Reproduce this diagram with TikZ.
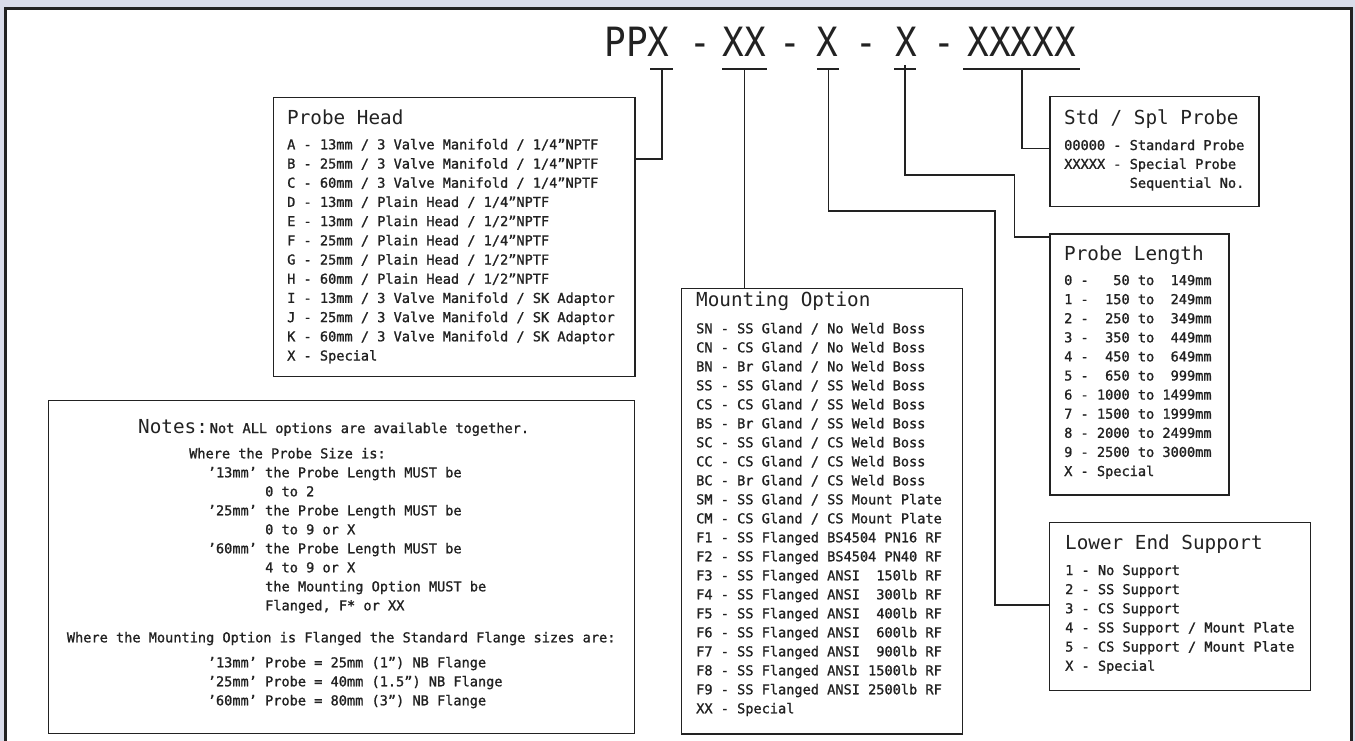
\documentclass[tikz,border=0pt]{standalone}
\usepackage{fontspec}
\usepackage{graphicx}
\newfontfamily\cadfont{DejaVu Sans Mono}
\newfontfamily\cadbody[FakeBold=1.2]{DejaVu Sans Mono}
\usetikzlibrary{calc}
\definecolor{bgl}{HTML}{D9DCEA}
\definecolor{ink}{HTML}{222222}
\tikzset{
  body/.style={anchor=base west, inner sep=0pt, font=\cadbody\fontsize{13.6}{16}\selectfont, text=ink},
  title/.style={anchor=base west, inner sep=0pt, font=\cadfont\fontsize{19.3}{22}\selectfont, text=ink},
  code/.style={anchor=base, inner sep=0pt, font=\cadfont\fontsize{36}{40}\selectfont, text=ink},
  box/.style={draw=ink, line width=1.3pt, fill=white, inner sep=0pt, anchor=north west, rectangle},
  conn/.style={draw=ink, line width=1.2pt},
}
\begin{document}
\begin{tikzpicture}[x=1pt,y=-1pt]
\useasboundingbox (0,0) rectangle (1355,741);
\fill[bgl] (0,0) rectangle (1355,741);
\fill[white] (5.5,9) rectangle (1351.5,745);
\draw[ink, line width=3pt] (5.5,745) -- (5.5,9) -- (1351.5,9) -- (1351.5,745);

% code
\node[code] (c1) at (637,56.5) {\scalebox{1}[1.12]{PPX}};
\node[code] (d1) at (700,56.5) {\scalebox{1}[1.12]{-}};
\node[code] (c2) at (744.5,56.5) {\scalebox{1}[1.12]{XX}};
\node[code] (d2) at (790,56.5) {\scalebox{1}[1.12]{-}};
\node[code] (c3) at (827.5,56.5) {\scalebox{1}[1.12]{X}};
\node[code] (d3) at (866,56.5) {\scalebox{1}[1.12]{-}};
\node[code] (c4) at (906,56.5) {\scalebox{1}[1.12]{X}};
\node[code] (d4) at (944.5,56.5) {\scalebox{1}[1.12]{-}};
\node[code] (c5) at (1021.7,56.5) {\scalebox{1}[1.12]{XXXXX}};

% ticks
\coordinate (t1) at (662,69);
\coordinate (t2) at (744.5,69);
\coordinate (t3) at (828.5,69);
\coordinate (t4) at (905,65);
\coordinate (t5) at (1022,69);
\draw[conn] (650,69) -- (673,69);
\draw[conn] (722,69) -- (767,69);
\draw[conn] (817,69) -- (839,69);
\draw[conn] (894,69) -- (916,69);
\draw[conn] (963,69) -- (1080,69);

% boxes
\node[box, minimum width=361.6pt, minimum height=279.3pt] (phbox) at (272.7,96.7) {};
\node[box, minimum width=209pt, minimum height=110.3pt] (stbox) at (1049.3,95.7) {};
\node[box, minimum width=179pt, minimum height=261pt] (plbox) at (1049.3,233.3) {};
\node[box, minimum width=281pt, minimum height=445.3pt] (mobox) at (680.7,288) {};
\node[box, minimum width=261pt, minimum height=168.3pt] (lebox) at (1049,521.7) {};
\node[box, minimum width=586pt, minimum height=333pt] (nobox) at (48,400) {};

% connectors
\draw[conn] (t1) |- ([yshift=-62.3pt]phbox.north east);
\draw[conn] (t2) -- (t2 |- mobox.north);
\draw[conn] (t3) -- (828.5,211) -| (995,605) -- ([yshift=-83.3pt]lebox.north west);
\draw[conn] (t4) -- (905,175) -| (1014.5,237) -- ([yshift=-3.7pt]plbox.north west);
\draw[conn] (t5) |- ([yshift=-52.6pt]stbox.north west);

% Probe Head
\node[title] (phT) at (287,125) {Probe Head};
\foreach \t [count=\i from 0] in {
A - 13mm / 3 Valve Manifold / 1/4”NPTF,
B - 25mm / 3 Valve Manifold / 1/4”NPTF,
C - 60mm / 3 Valve Manifold / 1/4”NPTF,
D - 13mm / Plain Head / 1/4”NPTF,
E - 13mm / Plain Head / 1/2”NPTF,
F - 25mm / Plain Head / 1/4”NPTF,
G - 25mm / Plain Head / 1/2”NPTF,
H - 60mm / Plain Head / 1/2”NPTF,
I - 13mm / 3 Valve Manifold / SK Adaptor,
J - 25mm / 3 Valve Manifold / SK Adaptor,
K - 60mm / 3 Valve Manifold / SK Adaptor,
X - Special}
  \node[body] (ph\i) at (287,{149.3+19.2*\i}) {\t};

% Std / Spl
\node[title] (stT) at (1064,124.3) {Std / Spl Probe};
\foreach \t [count=\i from 0] in {
00000 - Standard Probe,
XXXXX - Special Probe,
~~~~~~~~Sequential No.}
  \node[body] (st\i) at (1064,{150+18.9*\i}) {\t};

% Probe Length
\node[title] (plT) at (1064,260) {Probe Length};
\foreach \t [count=\i from 0] in {
0 -~~~50 to~~149mm,
1 -~~150 to~~249mm,
2 -~~250 to~~349mm,
3 -~~350 to~~449mm,
4 -~~450 to~~649mm,
5 -~~650 to~~999mm,
6 - 1000 to 1499mm,
7 - 1500 to 1999mm,
8 - 2000 to 2499mm,
9 - 2500 to 3000mm,
X - Special}
  \node[body] (pl\i) at (1064,{285+19.1*\i}) {\t};

% Mounting Option
\node[title] (moT) at (696,306.7) {Mounting Option};
\foreach \t [count=\i from 0] in {
SN - SS Gland / No Weld Boss,
CN - CS Gland / No Weld Boss,
BN - Br Gland / No Weld Boss,
SS - SS Gland / SS Weld Boss,
CS - CS Gland / SS Weld Boss,
BS - Br Gland / SS Weld Boss,
SC - SS Gland / CS Weld Boss,
CC - CS Gland / CS Weld Boss,
BC - Br Gland / CS Weld Boss,
SM - SS Gland / SS Mount Plate,
CM - CS Gland / CS Mount Plate,
F1 - SS Flanged BS4504 PN16 RF,
F2 - SS Flanged BS4504 PN40 RF,
F3 - SS Flanged ANSI~~150lb RF,
F4 - SS Flanged ANSI~~300lb RF,
F5 - SS Flanged ANSI~~400lb RF,
F6 - SS Flanged ANSI~~600lb RF,
F7 - SS Flanged ANSI~~900lb RF,
F8 - SS Flanged ANSI 1500lb RF,
F9 - SS Flanged ANSI 2500lb RF,
XX - Special}
  \node[body] (mo\i) at (696,{333.3+19.0*\i}) {\t};

% Lower End Support
\node[title] (leT) at (1065,549.3) {Lower End Support};
\foreach \t [count=\i from 0] in {
1 - No Support,
2 - SS Support,
3 - CS Support,
4 - SS Support / Mount Plate,
5 - CS Support / Mount Plate,
X - Special}
  \node[body] (le\i) at (1065,{575+19.14*\i}) {\t};

% Notes
\node[title] (noT) at (138,433) {Notes:};
\node[body] (no0) at (209.6,433) {Not ALL options are available together.};
\node[body] (no1) at (189,458.3) {Where the Probe Size is:};
\node[body] (no2) at (207.6,477.3) {’13mm’ the Probe Length MUST be};
\node[body] (no3) at (265,496.3) {0 to 2};
\node[body] (no4) at (207.6,515.3) {’25mm’ the Probe Length MUST be};
\node[body] (no5) at (265,534.3) {0 to 9 or X};
\node[body] (no6) at (207.6,553.3) {’60mm’ the Probe Length MUST be};
\node[body] (no7) at (265,572.3) {4 to 9 or X};
\node[body] (no8) at (265,591.3) {the Mounting Option MUST be};
\node[body] (no9) at (265,610.3) {Flanged, F* or XX};
\node[body] (no10) at (66.7,642.3) {Where the Mounting Option is Flanged the Standard Flange sizes are:};
\node[body] (no11) at (207.6,667.3) {’13mm’ Probe = 25mm (1”) NB Flange};
\node[body] (no12) at (207.6,686.3) {’25mm’ Probe = 40mm (1.5”) NB Flange};
\node[body] (no13) at (207.6,705.3) {’60mm’ Probe = 80mm (3”) NB Flange};
\end{tikzpicture}
\end{document}
